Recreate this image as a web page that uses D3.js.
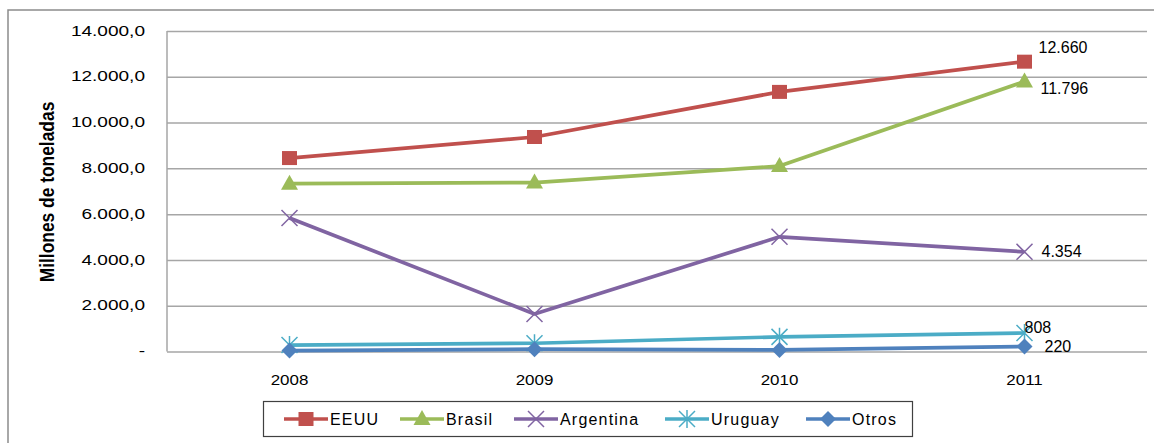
<!DOCTYPE html>
<html><head><meta charset="utf-8">
<script src="https://cdn.jsdelivr.net/npm/d3@7"></script>
<style>html,body{margin:0;padding:0;background:#fff;overflow:hidden}</style>
</head><body>
<svg id="c" width="1154" height="443"></svg>
<script>
// ---- data ----
const years = ["2008", "2009", "2010", "2011"];
const seriesNames = ["EEUU", "Brasil", "Argentina", "Uruguay", "Otros"];
const eeuu = [8450, 9370, 11340, 12660];
const brasil = [7330, 7380, 8100, 11796];
const argentina = [5830, 1640, 5010, 4354];
const uruguay = [280, 360, 640, 808];
const otros = [40, 100, 70, 220];
const yTicks = [0, 2000, 4000, 6000, 8000, 10000, 12000, 14000];
const yTitle = "Millones de toneladas";

// ---- styles ----
const colors = ["#C0504D", "#9BBB59", "#8064A2", "#4BACC6", "#4F81BD"];
const markers = ["square", "triangle", "x", "star", "diamond"];
const labelOffsets = [[14, -14], [16, 7], [17, 0], [0, -6], [20, 0]];
const allSeries = [eeuu, brasil, argentina, uruguay, otros];

const loc = d3.formatLocale({decimal: ",", thousands: ".", grouping: [3], currency: ["", ""]});
const fTick = v => v === 0 ? "-" : loc.format(",.1f")(v);
const fLab = loc.format(",.0f");

const svg = d3.select("#c");
const FONT = "'Liberation Sans', Arial, sans-serif";

const x = d3.scalePoint().domain(years).range([167, 1147]).padding(0.5);
const y = d3.scaleLinear().domain([0, 14000]).range([351.5, 31]);

// outer chart border
svg.append("path").attr("d", "M8,443V10H1154").attr("fill", "none")
  .attr("stroke", "#8c8c8c").attr("stroke-width", 1.5);

// gridlines
const gy = svg.append("g").attr("transform", "translate(167,0)")
  .call(d3.axisLeft(y).tickValues(yTicks).tickSize(-980).tickFormat(""));
gy.select(".domain").remove();
gy.selectAll(".tick line").attr("stroke", "#a6a6a6").attr("stroke-width", 1.5);

// left axis line
svg.append("line").attr("x1", 167).attr("x2", 167).attr("y1", y(14000)).attr("y2", y(0))
  .attr("stroke", "#a6a6a6").attr("stroke-width", 1.5);

function txt(g, tx, ty, s, size, sx, anchor, weight, rot) {
  const t = g.append("text")
    .attr("transform", `translate(${tx},${ty})` + (rot ? ` rotate(${rot})` : "") + ` scale(${sx[0]},${sx[1]})`)
    .attr("text-anchor", anchor).attr("dominant-baseline", "central")
    .attr("font-family", FONT).attr("font-size", size).attr("fill", "#000")
    .text(s);
  if (weight) t.attr("font-weight", weight);
  return t;
}

// y tick labels
yTicks.forEach(v => txt(svg, 145, y(v), fTick(v), 14, [1.36, 1], "end"));

// y title
txt(svg, 47, 192, yTitle, 14.5, [1.2, 1.35], "middle", "bold", -90);

// x labels
years.forEach(yr => txt(svg, x(yr), 380, yr, 15, [1.13, 1], "middle"));

// marker drawer
function drawMarker(g, type, cx, cy, col) {
  if (type === "square") {
    g.append("rect").attr("x", cx - 7.5).attr("y", cy - 7).attr("width", 15).attr("height", 14).attr("fill", col);
  } else if (type === "triangle") {
    g.append("path").attr("d", `M${cx},${cy - 9}L${cx + 8.5},${cy + 6}L${cx - 8.5},${cy + 6}Z`).attr("fill", col);
  } else if (type === "x") {
    g.append("path").attr("d", `M${cx - 8},${cy - 8}L${cx + 8},${cy + 8}M${cx - 8},${cy + 8}L${cx + 8},${cy - 8}`)
      .attr("stroke", col).attr("stroke-width", 1.5).attr("fill", "none");
  } else if (type === "star") {
    g.append("path").attr("d", `M${cx - 8},${cy - 8}L${cx + 8},${cy + 8}M${cx - 8},${cy + 8}L${cx + 8},${cy - 8}M${cx},${cy - 9}L${cx},${cy + 9}`)
      .attr("stroke", col).attr("stroke-width", 1.5).attr("fill", "none");
  } else if (type === "diamond") {
    g.append("path").attr("d", `M${cx},${cy - 8}L${cx + 8},${cy}L${cx},${cy + 8}L${cx - 8},${cy}Z`).attr("fill", col);
  }
}

// series
const line = d3.line().x((d, i) => x(years[i])).y(d => y(d));
allSeries.forEach((vals, si) => {
  const g = svg.append("g");
  g.append("path").datum(vals).attr("d", line).attr("fill", "none")
    .attr("stroke", colors[si]).attr("stroke-width", 3.7).attr("stroke-linejoin", "round");
  vals.forEach((v, i) => drawMarker(g, markers[si], x(years[i]), y(v), colors[si]));
});

// data labels on last point
allSeries.forEach((vals, si) => {
  const last = vals.length - 1;
  const px = x(years[last]) + labelOffsets[si][0];
  const py = y(vals[last]) + labelOffsets[si][1];
  txt(svg, px, py, fLab(vals[last]), 16, [1, 1], "start");
});

// legend
const lg = svg.append("g");
lg.append("rect").attr("x", 263.5).attr("y", 401.5).attr("width", 649).attr("height", 35)
  .attr("fill", "#fff").attr("stroke", "#404040").attr("stroke-width", 1.2);
const legX = [284, 400, 514, 665, 806];
seriesNames.forEach((n, si) => {
  const lx = legX[si], ly = 419;
  lg.append("line").attr("x1", lx).attr("x2", lx + 44).attr("y1", ly).attr("y2", ly)
    .attr("stroke", colors[si]).attr("stroke-width", 3.7);
  drawMarker(lg, markers[si], lx + 22, ly, colors[si]);
  txt(lg, lx + 46, ly, n, 16, [1, 1], "start").attr("letter-spacing", 1.2);
});
</script>
</body></html>
